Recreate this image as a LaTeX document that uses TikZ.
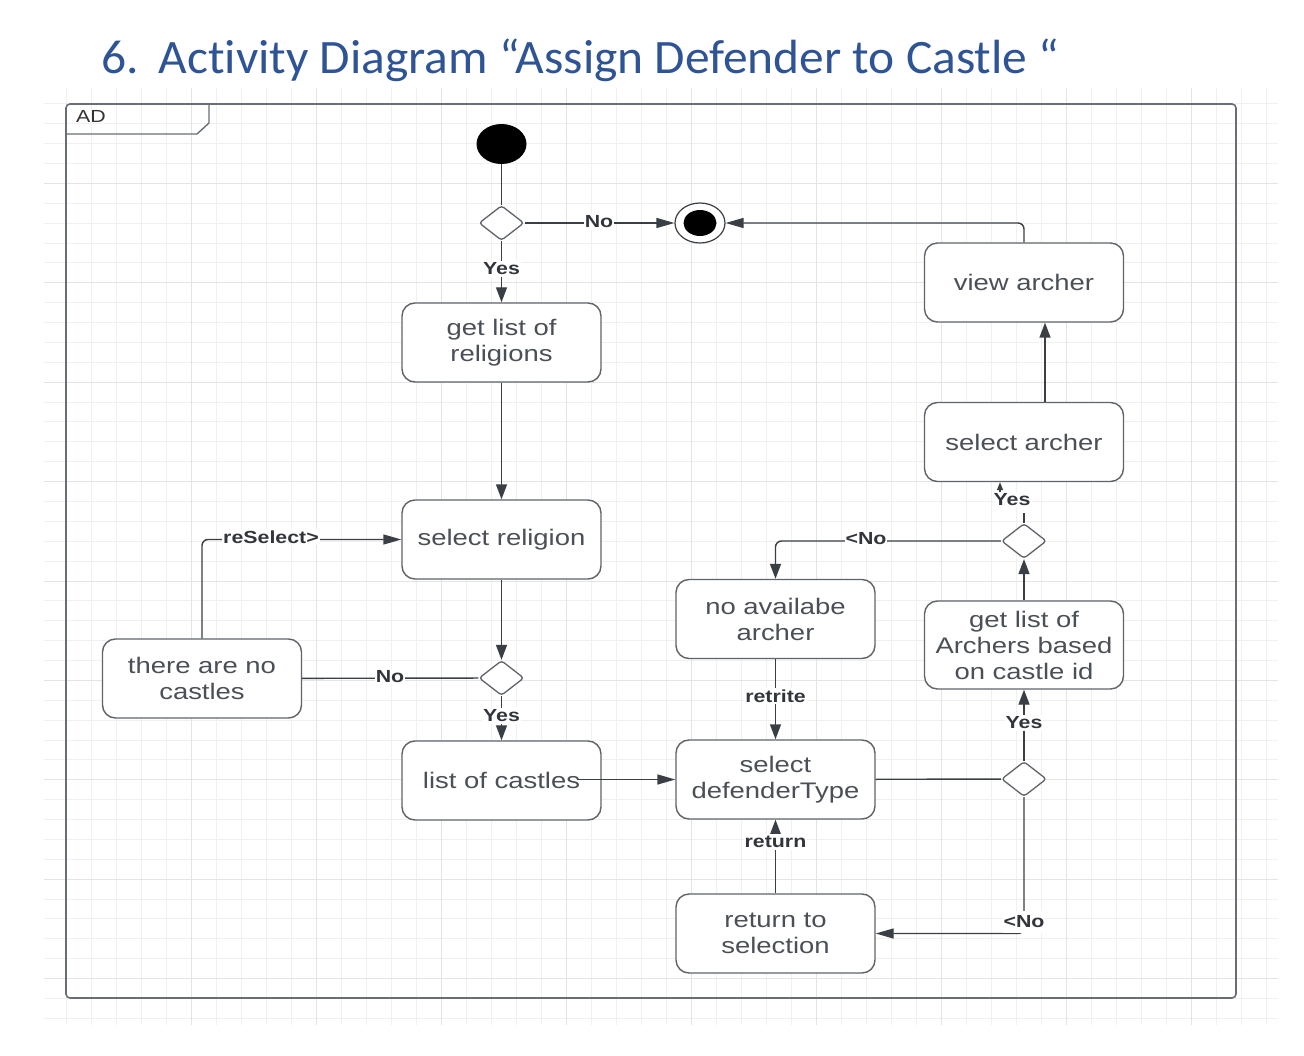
\documentclass[tikz,border=0pt]{standalone}
\usepackage{fontspec}
\usetikzlibrary{shapes.geometric,arrows.meta}
\newfontfamily\boxfont[FakeStretch=1.22]{Liberation Sans}
\newfontfamily\titlefont[FakeStretch=1.03,Ligatures={NoCommon}]{Carlito}
\definecolor{titleblue}{RGB}{47,84,150}
\definecolor{linec}{RGB}{58,63,70}
\definecolor{boxc}{RGB}{95,100,107}
\definecolor{txtc}{RGB}{75,80,88}
\definecolor{lblc}{RGB}{50,54,60}
\definecolor{gridminor}{RGB}{240,240,240}
\definecolor{gridmajor}{RGB}{228,228,228}
\definecolor{framec}{RGB}{105,110,118}
\begin{document}
\begin{tikzpicture}[x=1pt,y=-1pt,
  act/.style={draw=boxc,line width=1.4pt,rounded corners=13pt,minimum width=199pt,minimum height=79pt,
    align=center,text=txtc,font=\boxfont\fontsize{22.5}{26}\selectfont,fill=white,inner sep=0pt},
  dec/.style={diamond,draw=boxc,line width=1.3pt,rounded corners=3pt,minimum width=45pt,minimum height=35pt,
    inner sep=0pt,fill=white},
  startnode/.style={ellipse,fill=black,minimum width=50pt,minimum height=40pt,inner sep=0pt},
  endnode/.style={ellipse,draw=linec,line width=1.2pt,fill=white,minimum width=50pt,minimum height=40pt,inner sep=0pt},
  lbl/.style={font=\boxfont\bfseries\fontsize{17.5}{20}\selectfont,text=lblc,fill=white,inner xsep=1pt,inner ysep=2pt},
  flow/.style={draw=linec,line width=1.4pt,rounded corners=6pt},
  arrv/.style={flow,-{Triangle[length=15pt,width=11pt]}},
  arrh/.style={flow,-{Triangle[length=18pt,width=10pt]}},
]
\useasboundingbox (0,0) rectangle (1304,1056);
\fill[white] (0,0) rectangle (1304,1056);

% grid
\foreach \k in {0,...,48} {\draw[gridminor,line width=1pt] (66+25*\k,88) -- (66+25*\k,1025);}
\foreach \k in {0,...,46} {\draw[gridminor,line width=1pt] (44,104+19.875*\k) -- (1278,104+19.875*\k);}
\foreach \k in {5,10,...,45} {\draw[gridmajor,line width=1pt] (66+25*\k,88) -- (66+25*\k,1025);}
\foreach \k in {4,9,...,44} {\draw[gridmajor,line width=1pt] (44,104+19.875*\k) -- (1278,104+19.875*\k);}

% title
\node[anchor=base west,font=\titlefont\fontsize{48}{50}\selectfont,text=titleblue,inner sep=0pt] (title) at (101,74)
  {6.\hspace{20pt}Activity Diagram “Assign Defender to Castle “};

% frame
\draw[framec,line width=1.6pt,rounded corners=4pt] (66,104) rectangle (1236,998);
\draw[framec,line width=1.4pt] (66,134) -- (197,134) -- (209,123) -- (209,104);
\node[anchor=base west,font=\boxfont\fontsize{17.5}{20}\selectfont,text=black!80,inner sep=0pt] (adlabel) at (76,123) {AD};

% nodes
\node[startnode] (start) at (501.5,144) {};
\node[dec] (d1) at (501.5,223) {};
\node[endnode] (final) at (700,223) {};
\fill[black] (final.center) ellipse [x radius=16.5pt, y radius=13pt];
\node[act] (getrel) at (501.5,342.5) {get list of\\religions};
\node[act] (selrel) at (501.5,539.5) {select religion};
\node[act] (nocastles) at (202,678.5) {there are no\\castles};
\node[dec] (d2) at (501.5,678) {};
\node[act] (listcastles) at (501.5,780.5) {list of castles};
\node[act] (seldef) at (775.5,779.5) {select\\defenderType};
\node[act] (noarcher) at (775.5,619) {no availabe\\archer};
\node[act] (returnsel) at (775.5,933.5) {return to\\selection};
\node[act,minimum height=88pt] (getarchers) at (1024,645) {get list of\\Archers based\\on castle id};
\node[act] (selarcher) at (1024,442) {select archer};
\node[act] (viewarcher) at (1024,282.5) {view archer};
\node[dec] (d3) at (1024,541) {};
\node[dec] (d4) at (1024,779) {};

% connectors
\draw[flow] (start) -- (d1);
\draw[arrh] (d1) -- (final);
\node[lbl] (l1) at (599,222) {No};
\draw[arrv] (d1) -- (getrel);
\node[lbl] (l2) at (501.5,269) {Yes};
\draw[arrv] (getrel) -- (selrel);
\draw[arrv] (selrel) -- (d2);
\draw[flow] (d2) -- (nocastles);
\node[lbl] (l3) at (390,677) {No};
\draw[arrh] (nocastles.north) |- (selrel.west);
\node[lbl] (l4) at (271,537) {reSelect>};
\draw[arrv] (d2) -- (listcastles);
\node[lbl] (l5) at (501.5,716) {Yes};
\coordinate (lcout) at ([xshift=-25pt]listcastles.east);
\draw[arrh] (lcout |- seldef.west) -- (seldef.west);
\draw[flow] (seldef) -- (d4);
\draw[arrv] (d4) -- (getarchers);
\node[lbl] (l6) at (1024,723) {Yes};
\draw[arrh] (d4.south) |- (returnsel.east);
\node[lbl,inner ysep=5pt] (l7) at (1024,922) {<No};
\draw[arrv] (returnsel) -- (seldef);
\node[lbl] (l8) at (775.5,842) {return};
\draw[arrv] (noarcher) -- (seldef);
\node[lbl] (l9) at (775.5,696) {retrite};
\draw[arrv] (getarchers) -- (d3);
\draw[arrv] (d3.west) -| (noarcher.north);
\node[lbl] (l10) at (866,539) {<No};
\draw[flow] (d3.north) -- ++(0,-10);
\node[lbl] (l11) at (1012,500) {Yes};
\coordinate (ya) at (1000,492);
\draw[flow,-{Triangle[length=8pt,width=6pt]}] (ya) -- (ya |- selarcher.south);
\draw[arrv] ([xshift=21pt]selarcher.north) -- ([xshift=21pt]viewarcher.south);
\draw[arrh] (viewarcher.north) |- (final.east);
\end{tikzpicture}
\end{document}
